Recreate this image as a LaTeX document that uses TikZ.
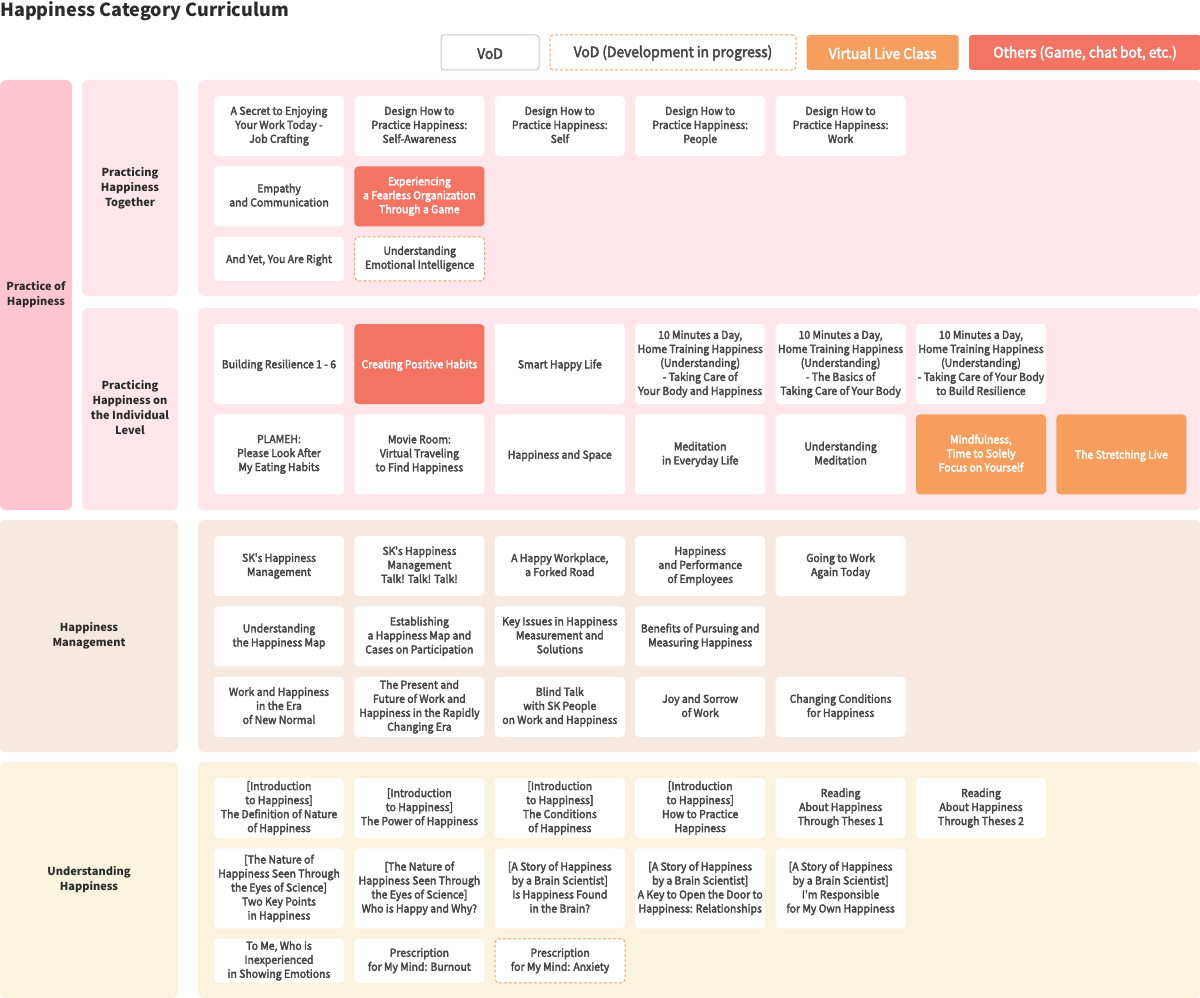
\documentclass[tikz,border=0pt]{standalone}
\usepackage{fontspec}
\setmainfont{Noto Sans CJK KR}
\newfontfamily\cellfont[FakeStretch=0.95,FakeBold=3]{Noto Sans CJK KR}
\usetikzlibrary{positioning}

\definecolor{pinkdark}{HTML}{FFC6D2}
\definecolor{pinklight}{HTML}{FFE6EB}
\definecolor{beige}{HTML}{F6E9E0}
\definecolor{cream}{HTML}{FAF3DD}
\definecolor{live}{HTML}{F59E5E}
\definecolor{other}{HTML}{F47464}
\definecolor{devline}{HTML}{F5A46C}
\definecolor{txt}{HTML}{454545}
\definecolor{head}{HTML}{2B2B2B}

\newcommand\cellline{\rule[-2.6pt]{0pt}{13.9pt}}
\newcommand\bandline{\rule[-3pt]{0pt}{14.8pt}}

\begin{document}
\begin{tikzpicture}[x=1pt,y=-1pt]

\tikzset{inner sep=0pt,
cell/.style={rectangle,rounded corners=4pt,fill=white,minimum width=130pt,align=center,text=txt,font=\cellfont\fontsize{11}{14}\selectfont\cellline},
h44/.style={minimum height=44pt},
h60/.style={minimum height=60pt},
h80/.style={minimum height=80pt},
dev/.style={draw=devline,line width=1pt,dash pattern=on 3pt off 2pt},
livecell/.style={fill=live,text=white},
othercell/.style={fill=other,text=white},
band/.style={rectangle,rounded corners=6pt,align=center,text=head,font=\fontsize{11}{15}\selectfont\bfseries\bandline},
legend/.style={rectangle,rounded corners=3pt,minimum height=35pt,text=txt,font=\cellfont\fontsize{14.5}{16}\selectfont,execute at begin node={\rule{0pt}{13pt}}}}

\useasboundingbox (0,0) rectangle (1200,998);

% Title and legend
\node[anchor=west,text=head,font=\fontsize{18}{20}\selectfont\bfseries] (title) at (0,11) {Happiness Category Curriculum};
\node[legend,draw=black!22,line width=1pt,minimum width=98pt] (lvod) at (490,52.5) {VoD};
\node[legend,dev,minimum width=246pt,right=10pt of lvod] (ldev) {VoD (Development in progress)};
\node[legend,fill=live,text=white,minimum width=152pt,right=10pt of ldev] (llive) {Virtual Live Class};
\node[legend,fill=other,text=white,minimum width=232pt,right=10pt of llive] (lother) {Others (Game, chat bot, etc.)};

% Category bands
\node[band,fill=pinkdark,minimum width=72pt,minimum height=430pt] (poh) at (36,295) {Practice of\\Happiness};
\node[band,fill=pinklight,minimum width=96pt,minimum height=216pt] (pht) at (130,188) {Practicing\\Happiness\\Together};
\node[band,fill=pinklight,minimum width=96pt,minimum height=202pt] (phi) at (130,409) {Practicing\\Happiness on\\the Individual\\Level};
\node[band,fill=beige,minimum width=178pt,minimum height=232pt] (hm) at (89,636) {Happiness\\Management};
\node[band,fill=cream,minimum width=178pt,minimum height=236pt] (uh) at (89,880) {Understanding\\Happiness};

% Panels
\node[band,fill=pinklight,minimum width=1002pt,minimum height=216pt] (ptpanel) at (699,188) {};
\node[band,fill=pinklight,minimum width=1002pt,minimum height=202pt] (pipanel) at (699,409) {};
\node[band,fill=beige,minimum width=1002pt,minimum height=232pt] (hmpanel) at (699,636) {};
\node[band,fill=cream,minimum width=1002pt,minimum height=236pt] (uhpanel) at (699,880) {};

% Practicing Happiness Together
\node[cell,h60] (pt1) at (279,126) {A Secret to Enjoying\\Your Work Today -\\Job Crafting};
\node[cell,h60,right=10pt of pt1] (pt2) {Design How to\\Practice Happiness:\\Self-Awareness};
\node[cell,h60,right=10pt of pt2] (pt3) {Design How to\\Practice Happiness:\\Self};
\node[cell,h60,right=10pt of pt3] (pt4) {Design How to\\Practice Happiness:\\People};
\node[cell,h60,right=10pt of pt4] (pt5) {Design How to\\Practice Happiness:\\Work};
\node[cell,h60,below=10pt of pt1] (pt6) {Empathy\\and Communication};
\node[cell,h60,othercell,right=10pt of pt6] (pt7) {Experiencing\\a Fearless Organization\\Through a Game};
\node[cell,h44,below=10pt of pt6] (pt8) {And Yet, You Are Right};
\node[cell,h44,dev,right=10pt of pt8] (pt9) {Understanding\\Emotional Intelligence};

% Practicing Happiness on the Individual Level
\node[cell,h80] (pi1) at (279,364) {Building Resilience 1 - 6};
\node[cell,h80,othercell,right=10pt of pi1] (pi2) {Creating Positive Habits};
\node[cell,h80,right=10pt of pi2] (pi3) {Smart Happy Life};
\node[cell,h80,right=10pt of pi3] (pi4) {10 Minutes a Day,\\Home Training Happiness\\(Understanding)\\- Taking Care of\\Your Body and Happiness};
\node[cell,h80,right=10pt of pi4] (pi5) {10 Minutes a Day,\\Home Training Happiness\\(Understanding)\\- The Basics of\\Taking Care of Your Body};
\node[cell,h80,right=10pt of pi5] (pi6) {10 Minutes a Day,\\Home Training Happiness\\(Understanding)\\- Taking Care of Your Body\\to Build Resilience};
\node[cell,h80,below=10pt of pi1] (pi7) {PLAMEH:\\Please Look After\\My Eating Habits};
\node[cell,h80,right=10pt of pi7] (pi8) {Movie Room:\\Virtual Traveling\\to Find Happiness};
\node[cell,h80,right=10pt of pi8] (pi9) {Happiness and Space};
\node[cell,h80,right=10pt of pi9] (pi10) {Meditation\\in Everyday Life};
\node[cell,h80,right=10pt of pi10] (pi11) {Understanding\\Meditation};
\node[cell,h80,livecell,right=10pt of pi11] (pi12) {Mindfulness,\\Time to Solely\\Focus on Yourself};
\node[cell,h80,livecell,right=10pt of pi12] (pi13) {The Stretching Live};

% Happiness Management
\node[cell,h60] (hm1) at (279,566) {SK's Happiness\\Management};
\node[cell,h60,right=10pt of hm1] (hm2) {SK's Happiness\\Management\\Talk! Talk! Talk!};
\node[cell,h60,right=10pt of hm2] (hm3) {A Happy Workplace,\\a Forked Road};
\node[cell,h60,right=10pt of hm3] (hm4) {Happiness\\and Performance\\of Employees};
\node[cell,h60,right=10pt of hm4] (hm5) {Going to Work\\Again Today};
\node[cell,h60,below=10pt of hm1] (hm6) {Understanding\\the Happiness Map};
\node[cell,h60,right=10pt of hm6] (hm7) {Establishing\\a Happiness Map and\\Cases on Participation};
\node[cell,h60,right=10pt of hm7] (hm8) {Key Issues in Happiness\\Measurement and\\Solutions};
\node[cell,h60,right=10pt of hm8] (hm9) {Benefits of Pursuing and\\Measuring Happiness};
\node[cell,h60,below=10pt of hm6] (hm10) {Work and Happiness\\in the Era\\of New Normal};
\node[cell,h60,right=10pt of hm10] (hm11) {The Present and\\Future of Work and\\Happiness in the Rapidly\\Changing Era};
\node[cell,h60,right=10pt of hm11] (hm12) {Blind Talk\\with SK People\\on Work and Happiness};
\node[cell,h60,right=10pt of hm12] (hm13) {Joy and Sorrow\\of Work};
\node[cell,h60,right=10pt of hm13] (hm14) {Changing Conditions\\for Happiness};

% Understanding Happiness
\node[cell,h60] (uh1) at (279,808) {[Introduction\\to Happiness]\\The Definition of Nature\\of Happiness};
\node[cell,h60,right=10pt of uh1] (uh2) {[Introduction\\to Happiness]\\The Power of Happiness};
\node[cell,h60,right=10pt of uh2] (uh3) {[Introduction\\to Happiness]\\The Conditions\\of Happiness};
\node[cell,h60,right=10pt of uh3] (uh4) {[Introduction\\to Happiness]\\How to Practice\\Happiness};
\node[cell,h60,right=10pt of uh4] (uh5) {Reading\\About Happiness\\Through Theses 1};
\node[cell,h60,right=10pt of uh5] (uh6) {Reading\\About Happiness\\Through Theses 2};
\node[cell,h80,below=10pt of uh1] (uh7) {[The Nature of\\Happiness Seen Through\\the Eyes of Science]\\Two Key Points\\in Happiness};
\node[cell,h80,right=10pt of uh7] (uh8) {[The Nature of\\Happiness Seen Through\\the Eyes of Science]\\Who is Happy and Why?};
\node[cell,h80,right=10pt of uh8] (uh9) {[A Story of Happiness\\by a Brain Scientist]\\Is Happiness Found\\in the Brain?};
\node[cell,h80,right=10pt of uh9] (uh10) {[A Story of Happiness\\by a Brain Scientist]\\A Key to Open the Door to\\Happiness: Relationships};
\node[cell,h80,right=10pt of uh10] (uh11) {[A Story of Happiness\\by a Brain Scientist]\\I'm Responsible\\for My Own Happiness};
\node[cell,h44,below=10pt of uh7] (uh12) {To Me, Who is\\Inexperienced\\in Showing Emotions};
\node[cell,h44,right=10pt of uh12] (uh13) {Prescription\\for My Mind: Burnout};
\node[cell,h44,dev,right=10pt of uh13] (uh14) {Prescription\\for My Mind: Anxiety};

\end{tikzpicture}
\end{document}
